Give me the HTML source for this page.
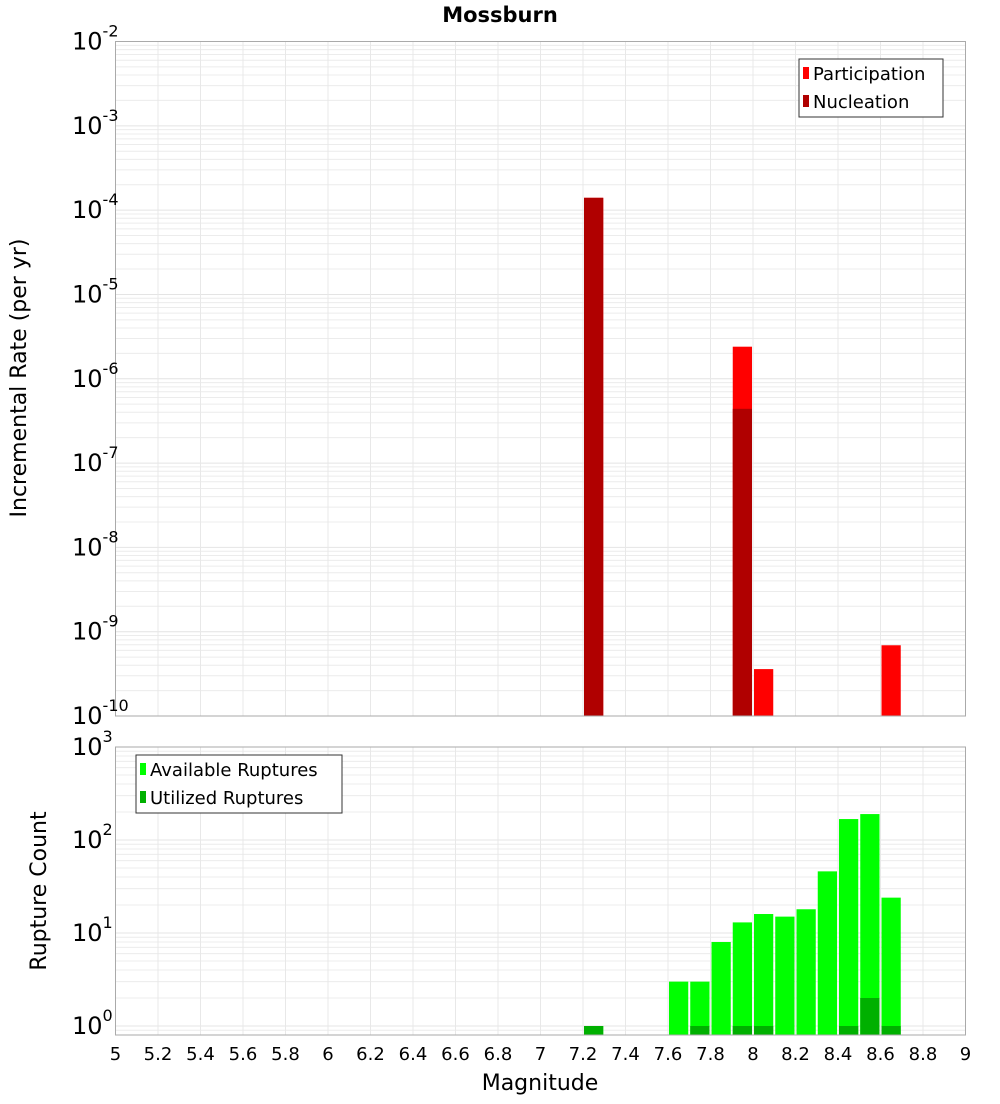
<!DOCTYPE html>
<html><head><meta charset="utf-8"><style>
body{margin:0;background:#fff;font-family:"DejaVu Sans","Liberation Sans",sans-serif;}
svg text{font-family:"DejaVu Sans","Liberation Sans",sans-serif;}
</style></head><body>
<svg id="c" width="1000" height="1100" xmlns="http://www.w3.org/2000/svg">
<text x="500" y="22" text-anchor="middle" font-size="21" font-weight="bold">Mossburn</text>
<text transform="translate(26,378) rotate(-90)" text-anchor="middle" font-size="22">Incremental Rate (per yr)</text>
<text transform="translate(46,891) rotate(-90)" text-anchor="middle" font-size="22">Rupture Count</text>
<text x="540" y="1090" text-anchor="middle" font-size="22">Magnitude</text>
</svg>
<script>
const magBins=[7.25,7.95,8.05,8.65];
const participation=[1.4e-4,2.4e-6,3.6e-10,6.9e-10];
const nucleation=[1.4e-4,4.4e-7,0,0];
const countBins=[7.25,7.65,7.75,7.85,7.95,8.05,8.15,8.25,8.35,8.45,8.55,8.65];
const available=[1,3,3,8,13,16,15,18,46,168,190,24];
const utilized=[1,0,1,0,1,1,0,0,0,1,2,1];
const xTicks=[5,5.2,5.4,5.6,5.8,6,6.2,6.4,6.6,6.8,7,7.2,7.4,7.6,7.8,8,8.2,8.4,8.6,8.8,9];
const topExps=[-2,-3,-4,-5,-6,-7,-8,-9,-10];
const botExps=[3,2,1,0];
const NS="http://www.w3.org/2000/svg",svg=document.getElementById('c');
function el(t,a,p){const e=document.createElementNS(NS,t);for(const k in a)e.setAttribute(k,a[k]);(p||svg).appendChild(e);return e;}
const X0=115.5,X1=965.5;
const xs=m=>X0+(m-5)/4*(X1-X0);
const T0=41.5,T1=716;const yTop=v=>T0+(-2-Math.log10(v))*(T1-T0)/8;
const B0=747,Bdec=93;const yBot=v=>B0+(3-Math.log10(v))*Bdec;const BB=1035;
function grid(top,bot,yfun,eMin,eMax){
 const g=el('g',{});
 for(let e=eMin;e<eMax;e++)for(let k=1;k<10;k++){const y=yfun(k*Math.pow(10,e));if(y>=top-0.1&&y<=bot)el('line',{x1:X0,x2:X1,y1:y,y2:y,stroke:k==1?'#e4e4e4':'#ececec','stroke-width':1},g);}
 xTicks.forEach(t=>{const x=xs(t);el('line',{x1:x,x2:x,y1:top,y2:bot,stroke:'#e8e8e8'},g);});
}
grid(T0,T1,yTop,-10,-1);
grid(B0,BB,yBot,-1,3);
function bar(m,v,fill,yfun,base,name){const r=el('rect',{x:xs(m-0.05)+1,width:xs(m+0.05)-xs(m-0.05)-2,y:yfun(v),height:base-yfun(v),fill:fill});}
magBins.forEach((m,i)=>{if(participation[i]>0)bar(m,participation[i],'#ff0000',yTop,T1,'participation-bar');});
magBins.forEach((m,i)=>{if(nucleation[i]>0)bar(m,nucleation[i],'#b00000',yTop,T1,'nucleation-bar');});
countBins.forEach((m,i)=>{if(available[i]>0)bar(m,available[i],'#00ff00',yBot,BB,'available-bar');});
countBins.forEach((m,i)=>{if(utilized[i]>0)bar(m,utilized[i],'#00b000',yBot,BB,'utilized-bar');});
const f1=el('rect',{x:X0,y:T0,width:X1-X0,height:T1-T0,fill:'none',stroke:'#aaa'});
const f2=el('rect',{x:X0,y:B0,width:X1-X0,height:BB-B0,fill:'none',stroke:'#aaa'});
function ylab(e,y){const t=el('text',{x:106,y:y+8,'text-anchor':'end','font-size':24});
 t.appendChild(document.createTextNode('10'));const s=el('tspan',{dy:-13,'font-size':16},t);s.textContent=String(e);t.setAttribute('x',72);t.setAttribute('text-anchor','start');}
topExps.forEach(e=>ylab(e,yTop(Math.pow(10,e))));
botExps.forEach(e=>ylab(e,yBot(Math.pow(10,e))));
xTicks.forEach(t=>{const l=el('text',{x:xs(t),y:1060,'text-anchor':'middle','font-size':18});l.textContent=String(t);});
function legend(x,y,w,items,name){const g=el('g',{});
 el('rect',{x:x,y:y,width:w,height:58,fill:'#fff',stroke:'#333'},g);
 items.forEach((it,i)=>{el('rect',{x:x+4,y:y+8+i*28,width:6,height:12,fill:it[1]},g);const t=el('text',{x:x+14,y:y+21+i*28,'font-size':18},g);t.textContent=it[0];});}
legend(799,59,144,[['Participation','#ff0000'],['Nucleation','#b00000']],'top-legend');
legend(136,755,206,[['Available Ruptures','#00ff00'],['Utilized Ruptures','#00b000']],'bottom-legend');
</script>
</body></html>
